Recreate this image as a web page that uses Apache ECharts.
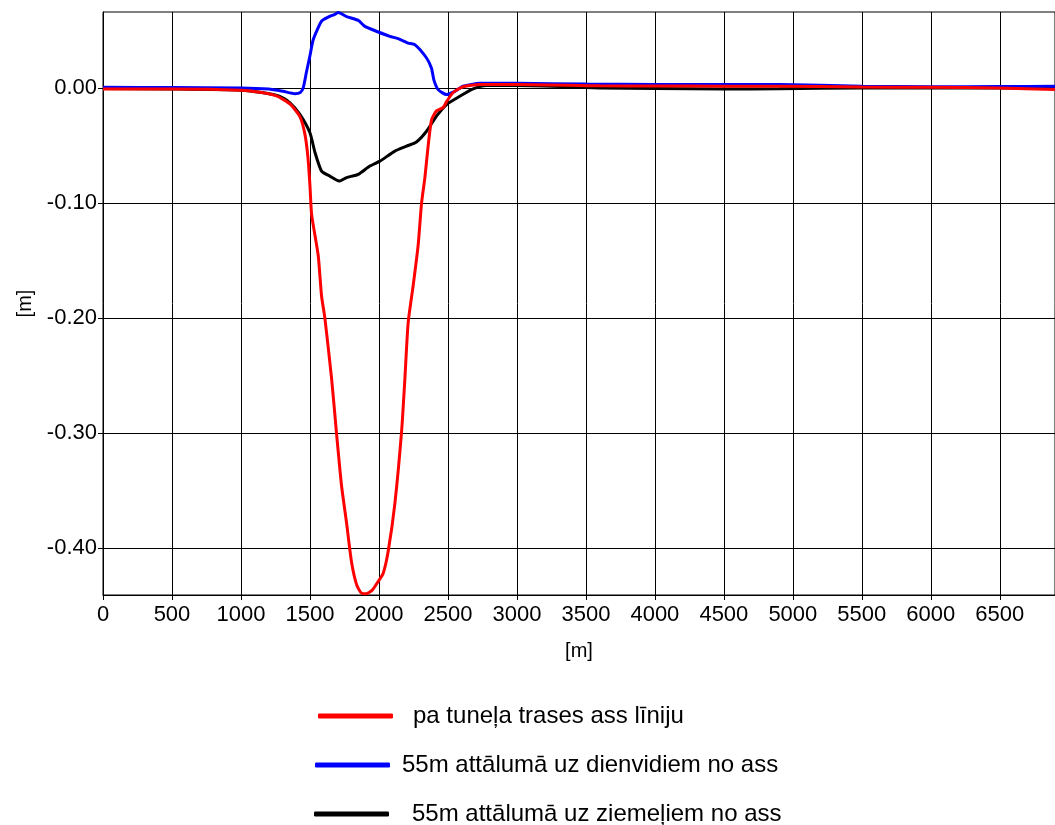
<!DOCTYPE html>
<html>
<head>
<meta charset="utf-8">
<script src="https://cdn.jsdelivr.net/npm/echarts@6/dist/echarts.min.js"></script>
<style>html,body{margin:0;padding:0;background:#fff}#c{width:1055px;height:825px}</style>
</head>
<body>
<div id="c"></div>
<script>
// ---- data ----
const seriesNames = ['pa tuneļa trases ass līniju', '55m attālumā uz dienvidiem no ass', '55m attālumā uz ziemeļiem no ass'];
const seriesColors = ['#ff0000', '#0000ff', '#000000'];
const xTicks = [0,500,1000,1500,2000,2500,3000,3500,4000,4500,5000,5500,6000,6500];
const yTicks = [-0.4,-0.3,-0.2,-0.1,0];

const redX = [0,500,1000,1150,1258,1355,1427,1463,1485,1500,1512,1560,1584,1608,1657,1693,1729,1765,1801,1838,1870,1905,1950,1990,2031,2067,2115,2164,2188,2212,2248,2284,2309,2333,2357,2381,2417,2466,2490,2538,2610,2731,3000,3600,4000,4500,4900,5500,6000,6500,6900];
const redY = [-0.001,-0.001,-0.002,-0.004,-0.007,-0.014,-0.025,-0.040,-0.060,-0.085,-0.110,-0.146,-0.181,-0.200,-0.253,-0.301,-0.346,-0.378,-0.412,-0.432,-0.439,-0.440,-0.437,-0.430,-0.422,-0.403,-0.362,-0.299,-0.253,-0.204,-0.172,-0.137,-0.100,-0.078,-0.050,-0.028,-0.020,-0.017,-0.012,-0.004,0.001,0.003,0.003,0.0018,0.0017,0.0015,0.0014,0.0008,0.0005,0.0,-0.0015];

const blueX = [0,500,1000,1200,1306,1391,1430,1451,1475,1500,1524,1584,1632,1680,1705,1765,1850,1898,1995,2079,2139,2212,2260,2345,2381,2398,2429,2490,2550,2610,2731,3000,3500,4000,4500,4900,5500,6000,6500,6900];
const blueY = [0.0005,0.0003,0.0,-0.001,-0.003,-0.005,-0.004,0.0,0.014,0.028,0.042,0.058,0.0616,0.064,0.0656,0.062,0.0587,0.0535,0.0486,0.0448,0.0428,0.039,0.0376,0.026,0.017,0.007,-0.0015,-0.0058,-0.003,0.0014,0.004,0.004,0.0033,0.003,0.003,0.0029,0.0015,0.001,0.0012,0.0014];

const blackX = [0,500,1000,1150,1282,1355,1427,1500,1536,1584,1644,1712,1765,1850,1934,2007,2115,2200,2272,2345,2417,2490,2586,2683,2780,3000,3600,4000,4500,4900,5500,6000,6900];
const blackY = [-0.0005,-0.001,-0.002,-0.004,-0.0073,-0.013,-0.023,-0.039,-0.056,-0.0724,-0.0767,-0.081,-0.078,-0.0752,-0.068,-0.0637,-0.055,-0.0507,-0.047,-0.0377,-0.0246,-0.0145,-0.0073,-0.0009,0.002,0.002,0.0,-0.0005,-0.001,-0.0008,0.0,0.0,0.0];

const zip = (xs, ys) => xs.map((x, i) => [x, ys[i]]);
const dataSets = [zip(redX, redY), zip(blueX, blueY), zip(blackX, blackY)];
const zOrder = [4, 3, 2];

const font = "'Liberation Sans', Arial, sans-serif";
const chart = echarts.init(document.getElementById('c'), null, {renderer: 'canvas'});

// legend layout (one legend per item to place each row like the reference)
const legendLeft = [318, 315, 314];
const legendTop = [704, 753, 802];
const legendPad = [15, 7, 18];
const legends = seriesNames.map((n, i) => ({
  orient: 'vertical', left: legendLeft[i], top: legendTop[i], padding: 0,
  itemWidth: 75, itemHeight: 5, icon: 'roundRect',
  data: [n],
  selectedMode: false,
  formatter: '{a|{name}}',
  textStyle: {rich: {a: {fontSize: 24, fontFamily: font, color: '#000', lineHeight: 26, padding: [0, 0, 0, legendPad[i]]}},
    fontSize: 24, fontFamily: font, color: '#000'}
}));

chart.setOption({
  animation: false,
  backgroundColor: '#fff',
  grid: {left: 103, right: 0, top: 12, height: 583, show: true, borderColor: '#000', borderWidth: 1, containLabel: false},
  xAxis: {
    type: 'value', min: 0, max: 6900,
    name: '[m]', nameLocation: 'middle', nameGap: 46,
    nameTextStyle: {fontSize: 20, fontFamily: font, color: '#000'},
    axisLine: {onZero: false, lineStyle: {color: '#000', width: 1}},
    axisTick: {show: true, length: 5, inside: false, customValues: xTicks, lineStyle: {color: '#000'}},
    axisLabel: {customValues: xTicks, fontSize: 22, fontFamily: font, color: '#000', margin: 9,
      formatter: v => String(v)},
    splitLine: {show: true, lineStyle: {color: '#000', width: 1}}
  },
  yAxis: {
    type: 'value', min: -0.441, max: 0.066,
    name: '[m]', nameLocation: 'middle', nameGap: 68, nameRotate: 90,
    nameTextStyle: {fontSize: 20, fontFamily: font, color: '#000'},
    axisLine: {show: true, onZero: false, lineStyle: {color: '#000', width: 1}},
    axisTick: {show: true, length: 5, customValues: yTicks, lineStyle: {color: '#000'}},
    axisLabel: {customValues: yTicks, fontSize: 22, fontFamily: font, color: '#000', margin: 6,
      formatter: v => (Math.abs(v) < 1e-9 ? 0 : v).toFixed(2)},
    splitLine: {show: true, lineStyle: {color: '#000', width: 1}}
  },
  legend: legends,
  series: seriesNames.map((n, i) => ({
    name: n, type: 'line', data: dataSets[i], z: zOrder[i],
    showSymbol: false, symbol: 'none', smooth: 0.2,
    lineStyle: {color: seriesColors[i], width: 3},
    itemStyle: {color: seriesColors[i]}
  }))
});
</script>
</body>
</html>
